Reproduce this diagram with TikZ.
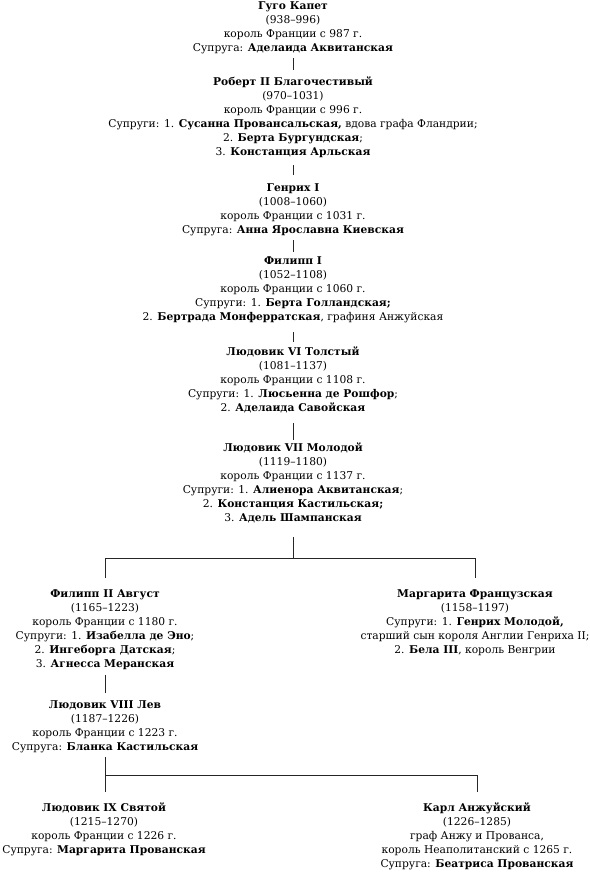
\documentclass[tikz,border=0pt]{standalone}
\usepackage{fontspec}
\setmainfont{DejaVu Serif}
\begin{document}
\begin{tikzpicture}[x=1pt,y=1pt,
  person/.style={anchor=north,align=center,inner sep=0pt,font=\fontsize{10.7}{14}\selectfont},
  conn/.style={draw=black!85,line width=0.7pt}]
\useasboundingbox (0,0) rectangle (589,-872);
\node[person] (gugo) at (293,0) {\strut\textbf{Гуго Капет}\\(938–996)\\король Франции с 987 г.\\Супруга: \textbf{Аделаида Аквитанская}\strut};
\node[person] (robert) at (293,-75) {\strut\textbf{Роберт II Благочестивый}\\(970–1031)\\король Франции с 996 г.\\Супруги: 1. \textbf{Сусанна Провансальская,} вдова графа Фландрии;\\2. \textbf{Берта Бургундская};\\3. \textbf{Констанция Арльская}\strut};
\node[person] (henri) at (293,-181) {\strut\textbf{Генрих I}\\(1008–1060)\\король Франции с 1031 г.\\Супруга: \textbf{Анна Ярославна Киевская}\strut};
\node[person] (phil1) at (293,-254) {\strut\textbf{Филипп I}\\(1052–1108)\\король Франции с 1060 г.\\Супруги: 1. \textbf{Берта Голландская;}\\2. \textbf{Бертрада Монферратская}, графиня Анжуйская\strut};
\node[person] (louis6) at (293,-345) {\strut\textbf{Людовик VI Толстый}\\(1081–1137)\\король Франции с 1108 г.\\Супруги: 1. \textbf{Люсьенна де Рошфор};\\2. \textbf{Аделаида Савойская}\strut};
\node[person] (louis7) at (293,-441) {\strut\textbf{Людовик VII Молодой}\\(1119–1180)\\король Франции с 1137 г.\\Супруги: 1. \textbf{Алиенора Аквитанская};\\2. \textbf{Констанция Кастильская;}\\3. \textbf{Адель Шампанская}\strut};
\node[person] (phil2) at (105,-587) {\strut\textbf{Филипп II Август}\\(1165–1223)\\король Франции с 1180 г.\\Супруги: 1. \textbf{Изабелла де Эно};\\2. \textbf{Ингеборга Датская};\\3. \textbf{Агнесса Меранская}\strut};
\node[person] (marg) at (475,-587) {\strut\textbf{Маргарита Французская}\\(1158–1197)\\Супруги: 1. \textbf{Генрих Молодой,}\\старший сын короля Англии Генриха II;\\2. \textbf{Бела III}, король Венгрии\strut};
\node[person] (louis8) at (105,-698) {\strut\textbf{Людовик VIII Лев}\\(1187–1226)\\король Франции с 1223 г.\\Супруга: \textbf{Бланка Кастильская}\strut};
\node[person] (louis9) at (104,-801) {\strut\textbf{Людовик IX Святой}\\(1215–1270)\\король Франции с 1226 г.\\Супруга: \textbf{Маргарита Прованская}\strut};
\node[person] (karl) at (477,-801) {\strut\textbf{Карл Анжуйский}\\(1226–1285)\\граф Анжу и Прованса,\\король Неаполитанский с 1265 г.\\Супруга: \textbf{Беатриса Прованская}\strut};
\draw[conn] (gugo.south |- 0,-58) -- (robert.north |- 0,-70);
\draw[conn] (robert.south |- 0,-165) -- (henri.north |- 0,-175);
\draw[conn] (henri.south |- 0,-240) -- (phil1.north |- 0,-252);
\draw[conn] (phil1.south |- 0,-332) -- (louis6.north |- 0,-342);
\draw[conn] (louis6.south |- 0,-423) -- (louis7.north |- 0,-440);
\draw[conn] (louis7.south |- 0,-537) -- (louis7.south |- 0,-558);
\draw[conn] (phil2.north |- 0,-578) -- (phil2.north |- 0,-558) -- (marg.north |- 0,-558) -- (marg.north |- 0,-578);
\draw[conn] (phil2.south |- 0,-675) -- (louis8.north |- 0,-693);
\draw[conn] (louis8.south |- 0,-757) -- (louis8.south |- 0,-792);
\draw[conn] (louis8.south |- 0,-775) -- (karl.north |- 0,-775) -- (karl.north |- 0,-792);
\end{tikzpicture}
\end{document}
